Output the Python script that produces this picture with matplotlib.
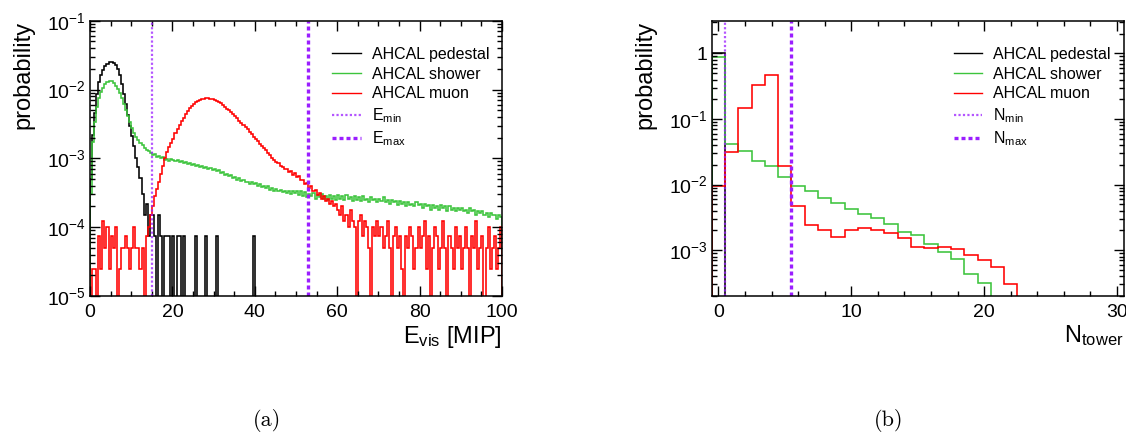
import numpy as np
import matplotlib
matplotlib.use('Agg')
import matplotlib.pyplot as plt
from matplotlib.lines import Line2D
from matplotlib.ticker import MultipleLocator, LogLocator, FuncFormatter, NullFormatter

plt.rcParams['font.family'] = ['Liberation Sans', 'DejaVu Sans']
plt.rcParams['mathtext.fontset'] = 'custom'
plt.rcParams['mathtext.rm'] = 'Liberation Sans'
plt.rcParams['mathtext.it'] = 'Liberation Sans:italic'
plt.rcParams['mathtext.default'] = 'regular'

# ---- (a) visible energy, 0.5 MIP bins from 0 to 100 ----
e_bin = 0.5
e_max = 100.0

pedestal_e = ([5e-4, 2.2e-3, 4.6e-3, 8.5e-3, 1.3e-2, 1.65e-2, 1.9e-2, 2.2e-2, 2.35e-2, 2.5e-2,
               2.5e-2, 2.4e-2, 2.25e-2, 2.0e-2, 1.6e-2, 1.2e-2, 8.5e-3, 6.2e-3, 4.3e-3, 3.0e-3]
              + [2.1e-3, 1.5e-3, 1.0e-3, 7.5e-4, 5.2e-4, 3.0e-4, 1.5e-4, 2.2e-4, 7.5e-5, 1.5e-4,
                 1.5e-4, 7.5e-5, 0, 1.5e-4, 7.5e-5, 0, 7.5e-5, 7.5e-5, 7.5e-5, 0]
              + [7.5e-5, 0, 7.5e-5, 7.5e-5, 0, 7.5e-5, 0, 0, 0, 0,
                 0, 7.5e-5, 0, 0, 0, 0, 7.5e-5, 0, 0, 0]
              + [0, 7.5e-5, 0, 0, 0, 0, 0, 0, 0, 0,
                 0, 0, 0, 0, 0, 0, 0, 0, 0, 7.5e-5]
              + [0] * 120)

shower_e = ([3e-4, 1.7e-3, 3.4e-3, 5.6e-3, 7.5e-3, 9.2e-3, 1.07e-2, 1.2e-2, 1.3e-2, 1.35e-2,
             1.33e-2, 1.25e-2, 1.14e-2, 1.02e-2, 9e-3, 7.6e-3, 6.2e-3, 5.1e-3, 4.1e-3, 3.4e-3]
            + [2.8e-3, 2.35e-3, 2.05e-3, 1.85e-3, 1.66e-3, 1.55e-3, 1.42e-3, 1.33e-3, 1.27e-3, 1.18e-3,
               1.12e-3, 1.14e-3, 1.06e-3, 1.08e-3, 1.0e-3, 1.03e-3, 9.6e-4, 9.9e-4, 9.3e-4, 9.7e-4]
            + [9.4e-4, 9.0e-4, 9.6e-4, 8.8e-4, 9.1e-4, 8.5e-4, 8.9e-4, 8.3e-4, 8.6e-4, 8.0e-4,
               8.2e-4, 7.8e-4, 8.1e-4, 7.5e-4, 7.7e-4, 7.3e-4, 7.6e-4, 7.0e-4, 7.2e-4, 6.8e-4]
            + [7.0e-4, 6.5e-4, 6.7e-4, 6.2e-4, 6.3e-4, 5.8e-4, 6.0e-4, 5.5e-4, 5.7e-4, 5.2e-4,
               5.4e-4, 4.9e-4, 5.1e-4, 4.7e-4, 4.9e-4, 4.5e-4, 4.6e-4, 4.3e-4, 4.5e-4, 4.2e-4]
            + [4.4e-4, 4.0e-4, 4.2e-4, 3.8e-4, 4.0e-4, 3.7e-4, 3.9e-4, 3.5e-4, 3.7e-4, 3.4e-4,
               3.6e-4, 3.3e-4, 3.5e-4, 3.2e-4, 3.4e-4, 3.1e-4, 3.3e-4, 3.0e-4, 3.4e-4, 3.1e-4]
            + [3.4e-4, 2.9e-4, 3.3e-4, 2.8e-4, 3.2e-4, 2.7e-4, 3.0e-4, 2.8e-4, 3.1e-4, 2.6e-4,
               2.9e-4, 2.7e-4, 3.0e-4, 2.6e-4, 2.8e-4, 2.5e-4, 2.9e-4, 2.6e-4, 2.8e-4, 2.5e-4]
            + [2.9e-4, 2.6e-4, 2.8e-4, 2.5e-4, 2.9e-4, 2.6e-4, 2.7e-4, 2.4e-4, 2.8e-4, 2.5e-4,
               2.7e-4, 2.4e-4, 2.8e-4, 2.5e-4, 2.6e-4, 2.3e-4, 2.7e-4, 2.5e-4, 2.6e-4, 2.3e-4]
            + [2.6e-4, 2.4e-4, 2.7e-4, 2.3e-4, 2.5e-4, 2.2e-4, 2.5e-4, 2.3e-4, 2.4e-4, 2.1e-4,
               2.4e-4, 2.2e-4, 2.3e-4, 2.0e-4, 2.3e-4, 2.1e-4, 2.2e-4, 2.0e-4, 2.3e-4, 2.1e-4]
            + [2.2e-4, 1.9e-4, 2.2e-4, 2.0e-4, 2.1e-4, 1.8e-4, 2.1e-4, 1.9e-4, 2.0e-4, 1.8e-4,
               2.1e-4, 1.9e-4, 2.0e-4, 1.7e-4, 2.0e-4, 1.8e-4, 1.9e-4, 1.7e-4, 1.9e-4, 1.8e-4]
            + [1.9e-4, 1.7e-4, 1.8e-4, 1.6e-4, 1.9e-4, 1.7e-4, 1.8e-4, 1.5e-4, 1.7e-4, 1.6e-4,
               1.7e-4, 1.5e-4, 1.6e-4, 1.4e-4, 1.6e-4, 1.5e-4, 1.5e-4, 1.3e-4, 1.5e-4, 1.4e-4])

muon_e = ([0, 2.5e-5, 2.5e-5, 0, 7.5e-5, 2.5e-5, 1.25e-4, 5e-5, 1e-4, 2.5e-5,
           7.5e-5, 5e-5, 1e-4, 0, 2.5e-5, 5e-5, 5e-5, 7.5e-5, 5e-5, 2.5e-5]
          + [5e-5, 1e-4, 5e-5, 5e-5, 2.5e-5, 5e-5, 0, 7.5e-5, 1e-4, 1.5e-4,
             2e-4, 2.8e-4, 3.6e-4, 4.5e-4, 6e-4, 7.8e-4, 1.0e-3, 1.25e-3, 1.45e-3, 1.65e-3]
          + [1.9e-3, 2.3e-3, 2.7e-3, 3.1e-3, 3.5e-3, 3.9e-3, 4.4e-3, 4.9e-3, 5.4e-3, 5.8e-3,
             6.2e-3, 6.6e-3, 6.9e-3, 7.1e-3, 7.3e-3, 7.4e-3, 7.5e-3, 7.5e-3, 7.4e-3, 7.3e-3]
          + [7.1e-3, 6.9e-3, 6.6e-3, 6.3e-3, 6.0e-3, 5.6e-3, 5.3e-3, 5.0e-3, 4.7e-3, 4.4e-3,
             4.1e-3, 3.8e-3, 3.5e-3, 3.3e-3, 3.05e-3, 2.85e-3, 2.65e-3, 2.45e-3, 2.25e-3, 2.05e-3]
          + [1.9e-3, 1.78e-3, 1.64e-3, 1.52e-3, 1.4e-3, 1.32e-3, 1.2e-3, 1.12e-3, 1.02e-3, 9.6e-4,
             8.8e-4, 8.5e-4, 7.7e-4, 7.6e-4, 6.9e-4, 7.0e-4, 6.3e-4, 6.5e-4, 5.8e-4, 6.1e-4]
          + [5.4e-4, 5.6e-4, 4.8e-4, 4.9e-4, 4.2e-4, 4.4e-4, 3.7e-4, 3.9e-4, 3.3e-4, 3.5e-4,
             2.9e-4, 3.1e-4, 2.6e-4, 2.8e-4, 2.4e-4, 2.6e-4, 2.2e-4, 2.4e-4, 2.0e-4, 2.2e-4]
          + [1.75e-4, 1.5e-4, 2.0e-4, 1.25e-4, 1.5e-4, 1.0e-4, 1.75e-4, 1.25e-4, 1.0e-4, 0,
             1.25e-4, 1.5e-4, 7.5e-5, 1.25e-4, 1.0e-4, 5e-5, 0, 1.0e-4, 7.5e-5, 1.25e-4]
          + [7.5e-5, 1.0e-4, 5e-5, 7.5e-5, 1.25e-4, 5e-5, 0, 7.5e-5, 1.0e-4, 5e-5,
             7.5e-5, 2.5e-5, 0, 7.5e-5, 5e-5, 1.0e-4, 7.5e-5, 2.5e-5, 5e-5, 1.0e-4]
          + [5e-5, 7.5e-5, 1.25e-4, 2.5e-5, 7.5e-5, 0, 5e-5, 1.0e-4, 7.5e-5, 2.5e-5,
             5e-5, 1.25e-4, 5e-5, 0, 7.5e-5, 5e-5, 2.5e-5, 1.0e-4, 5e-5, 7.5e-5]
          + [2.5e-5, 5e-5, 1.0e-4, 5e-5, 0, 7.5e-5, 5e-5, 1.25e-4, 2.5e-5, 5e-5,
             7.5e-5, 0, 5e-5, 1.0e-4, 2.5e-5, 5e-5, 7.5e-5, 2.5e-5, 5e-5, 1.0e-4])

e_cut_min = 15.0
e_cut_max = 53.0

# ---- (b) number of towers, unit bins centred on 0..30 ----
pedestal_n = [1.0] + [0] * 30
shower_n = [0.87, 0.041, 0.032, 0.023, 0.019, 0.013, 0.0095, 0.0079, 0.0063, 0.0053,
            0.0042, 0.0035, 0.0031, 0.0025, 0.0019, 0.0017, 0.00123, 0.00095, 0.00074, 0.00044,
            0.00032] + [0] * 10
muon_n = [0.0095, 0.031, 0.147, 0.325, 0.47, 0.019, 0.0047, 0.0024, 0.0020, 0.0016,
          0.0020, 0.0022, 0.0020, 0.0018, 0.00155, 0.00113, 0.00107, 0.0011, 0.00103, 0.00085,
          0.0007, 0.00055, 0.00031] + [0] * 8
n_cut_min = 0.5
n_cut_max = 5.5

c_ped = 'black'
c_sho = '#3cc43c'
c_muo = '#ff0000'
c_cut = '#9b1eff'

tiny = 1e-12


def draw_hist(ax, vals, edges, color):
    v = np.clip(np.asarray(vals, dtype=float), tiny, None)
    ax.stairs(v, edges, baseline=tiny, color=color, lw=1.15)


def log_label(v, pos):
    e = int(round(np.log10(v)))
    if e == 0:
        return '1'
    return r'$10^{%d}$' % e


def style_axes(ax):
    ax.set_yscale('log')
    ax.yaxis.set_major_locator(LogLocator(base=10))
    ax.yaxis.set_minor_locator(LogLocator(base=10, subs=np.arange(2, 10)))
    ax.yaxis.set_major_formatter(FuncFormatter(log_label))
    ax.yaxis.set_minor_formatter(NullFormatter())
    ax.tick_params(which='both', direction='in', top=True, right=True, labelsize=14)
    ax.tick_params(which='major', length=7, width=1.0)
    ax.tick_params(which='minor', length=3.5, width=1.0)
    ax.tick_params(axis='x', pad=6)
    ax.tick_params(axis='y', pad=3)
    for s in ax.spines.values():
        s.set_linewidth(1.1)


fig = plt.figure(figsize=(11.26, 4.32), dpi=100)
W, H = 1126.0, 432.0
axw = 412 / W
axh = 275.3 / H
bot = (H - 296) / H
ax1 = fig.add_axes([90 / W, bot, axw, axh])
ax2 = fig.add_axes([711.7 / W, bot, axw, axh])

# panel (a)
e_edges = np.arange(0, e_max + e_bin / 2, e_bin)
draw_hist(ax1, pedestal_e, e_edges, c_ped)
draw_hist(ax1, shower_e, e_edges, c_sho)
draw_hist(ax1, muon_e, e_edges, c_muo)
ax1.axvline(e_cut_min, color=c_cut, lw=1.6, ls=(0, (1, 1)), alpha=0.75)
ax1.axvline(e_cut_max, color=c_cut, lw=2.4, ls=(0, (1.2, 0.9)))
ax1.set_xlim(0, 100)
ax1.set_ylim(1e-5, 1e-1)
style_axes(ax1)
ax1.xaxis.set_major_locator(MultipleLocator(20))
ax1.xaxis.set_minor_locator(MultipleLocator(5))

# panel (b)
n_edges = np.arange(-0.5, len(shower_n), 1.0)
draw_hist(ax2, pedestal_n, n_edges, c_ped)
draw_hist(ax2, shower_n, n_edges, c_sho)
draw_hist(ax2, muon_n, n_edges, c_muo)
ax2.axvline(n_cut_min, color=c_cut, lw=1.6, ls=(0, (1, 1)), alpha=0.75)
ax2.axvline(n_cut_max, color=c_cut, lw=2.4, ls=(0, (1.2, 0.9)))
ax2.set_xlim(-0.5, 30.5)
ax2.set_ylim(2e-4, 3.16)
style_axes(ax2)
ax2.xaxis.set_major_locator(MultipleLocator(10))
ax2.xaxis.set_minor_locator(MultipleLocator(2))

# labels
for ax, xl in [(ax1, r'E$_{vis}$ [MIP]'), (ax2, r'N$_{tower}$')]:
    ax.set_ylabel('probability', fontsize=17, loc='top')
    ax.yaxis.label.set_va('center')
    ax.yaxis.set_label_coords(-0.162, 1.0)
    ax.set_xlabel(xl, fontsize=17, loc='right')
    ax.xaxis.set_label_coords(1.0, -0.1)

# legends
for ax, cut in [(ax1, 'E'), (ax2, 'N')]:
    handles = [Line2D([], [], color=c_ped, lw=1.0),
               Line2D([], [], color=c_sho, lw=1.0),
               Line2D([], [], color=c_muo, lw=1.0),
               Line2D([], [], color=c_cut, lw=1.6, ls=(0, (1, 1)), alpha=0.75),
               Line2D([], [], color=c_cut, lw=2.4, ls=(0, (1.2, 0.9)))]
    labels = ['AHCAL pedestal', 'AHCAL shower', 'AHCAL muon',
              cut + r'$_{min}$', cut + r'$_{max}$']
    ax.legend(handles, labels, loc='upper left', bbox_to_anchor=(0.587, 0.905),
              frameon=False, fontsize=11.5, handlelength=1.8, handletextpad=0.7,
              labelspacing=0.3, borderpad=0, borderaxespad=0)

fig.text(266.7 / W, 1 - 421 / H, '(a)', family='cmr10', fontsize=16, ha='center', va='center')
fig.text(888.4 / W, 1 - 421 / H, '(b)', family='cmr10', fontsize=16, ha='center', va='center')

fig.savefig('out.png', dpi=100)
